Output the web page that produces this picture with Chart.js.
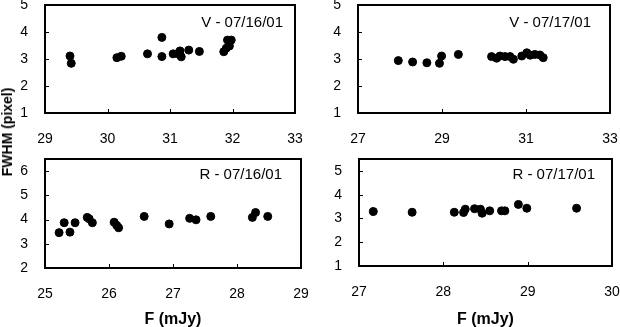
<!DOCTYPE html>
<html>
<head>
<meta charset="utf-8">
<script src="https://cdn.jsdelivr.net/npm/chart.js@4"></script>
<style>
  body { margin: 0; background: #fff; }
  #wrap { position: relative; width: 620px; height: 327px; overflow: hidden; }
  canvas { position: absolute; }
  #ylab {
    position: absolute; left: 7px; top: 132px;
    transform: translate(-50%, -50%) rotate(-90deg);
    font: bold 14px "Liberation Sans", Arial, sans-serif; white-space: nowrap;
  }
</style>
</head>
<body>
<div id="wrap">
  <canvas id="v16" width="310" height="150" style="left:0;top:0"></canvas>
  <canvas id="v17" width="310" height="150" style="left:310px;top:0"></canvas>
  <canvas id="r16" width="310" height="177" style="left:0;top:150px"></canvas>
  <canvas id="r17" width="310" height="177" style="left:310px;top:150px"></canvas>
  <div id="ylab">FWHM (pixel)</div>
</div>
<script>
// V band, 07/16/01
const v16Flux = [29.40, 29.42, 30.15, 30.22, 30.64, 30.87, 30.87, 31.05, 31.12, 31.16, 31.18, 31.30, 31.47, 31.86, 31.90, 31.95, 31.92, 31.98];
const v16Fwhm = [3.11, 2.84, 3.05, 3.10, 3.19, 3.80, 3.09, 3.19, 3.20, 3.30, 3.08, 3.33, 3.28, 3.27, 3.40, 3.48, 3.70, 3.70];
// V band, 07/17/01
const v17Flux = [27.96, 28.30, 28.64, 28.94, 28.99, 29.39, 30.18, 30.30, 30.38, 30.50, 30.62, 30.70, 30.90, 31.02, 31.10, 31.21, 31.33, 31.41];
const v17Fwhm = [2.94, 2.89, 2.86, 2.84, 3.11, 3.17, 3.09, 3.03, 3.11, 3.09, 3.09, 2.99, 3.11, 3.23, 3.14, 3.17, 3.15, 3.05];
// R band, 07/16/01
const r16Flux = [25.22, 25.30, 25.39, 25.47, 25.66, 25.69, 25.74, 26.08, 26.12, 26.15, 26.55, 26.94, 27.26, 27.36, 27.59, 28.24, 28.29, 28.48];
const r16Fwhm = [3.46, 3.87, 3.48, 3.87, 4.09, 4.03, 3.87, 3.89, 3.76, 3.66, 4.13, 3.82, 4.05, 3.99, 4.13, 4.09, 4.29, 4.13];
// R band, 07/17/01
const r17Flux = [27.17, 27.63, 28.13, 28.24, 28.26, 28.37, 28.44, 28.46, 28.55, 28.69, 28.73, 28.89, 28.99, 29.58];
const r17Fwhm = [3.29, 3.26, 3.26, 3.25, 3.39, 3.41, 3.39, 3.22, 3.32, 3.32, 3.32, 3.59, 3.43, 3.43];

const panelLabels = ["V - 07/16/01", "V - 07/17/01", "R - 07/16/01", "R - 07/17/01"];
const xTitle = "F (mJy)";

const FONT = '"Liberation Sans", Arial, sans-serif';

// box around the plot, inward tick marks and the panel label
const framePlugin = {
  id: 'frame',
  afterDraw(chart, args, opts) {
    const { ctx, chartArea: a, scales } = chart;
    ctx.save();
    ctx.strokeStyle = '#000';
    ctx.lineWidth = 1;
    ctx.beginPath();
    scales.x.ticks.forEach(t => {
      const px = Math.round(scales.x.getPixelForValue(t.value)) + 0.5;
      ctx.moveTo(px, a.bottom);
      ctx.lineTo(px, a.bottom - 4);
    });
    scales.y.ticks.forEach(t => {
      const py = Math.round(scales.y.getPixelForValue(t.value)) + 0.5;
      ctx.moveTo(a.left, py);
      ctx.lineTo(a.left + 4, py);
    });
    ctx.stroke();
    ctx.lineWidth = 2;
    ctx.strokeRect(a.left, a.top, a.right - a.left, a.bottom - a.top);
    ctx.fillStyle = '#000';
    ctx.font = '15px ' + FONT;
    ctx.textAlign = 'right';
    ctx.textBaseline = 'middle';
    ctx.fillText(opts.label, a.right - opts.dx, a.top + opts.dy);
    ctx.restore();
  }
};

function onlyWholeTicks(scale) {
  scale.ticks = scale.ticks.filter(t => Number.isInteger(t.value));
}

// fixed axis size, and no extra room for labels that overflow the ends
function fixSize(prop, size) {
  return s => {
    s[prop] = size;
    s.paddingLeft = s.paddingRight = s.paddingTop = s.paddingBottom = 0;
  };
}

function makePanel(id, xs, ys, cfg) {
  const pts = xs.map((x, i) => ({ x: x, y: ys[i] }));
  new Chart(document.getElementById(id), {
    type: 'scatter',
    data: {
      datasets: [{
        data: pts,
        backgroundColor: '#000',
        borderColor: '#000',
        pointRadius: 4,
        pointHoverRadius: 4
      }]
    },
    plugins: [framePlugin],
    options: {
      responsive: false,
      animation: false,
      devicePixelRatio: 1,
      layout: { padding: { top: cfg.padTop, right: cfg.padRight, left: 0, bottom: 0 } },
      plugins: {
        legend: { display: false },
        tooltip: { enabled: false },
        frame: { label: cfg.label, dx: cfg.labelDx, dy: cfg.labelDy }
      },
      scales: {
        x: {
          type: 'linear',
          min: cfg.xMin, max: cfg.xMax,
          grid: { display: false },
          border: { display: false },
          ticks: { stepSize: cfg.xStep, padding: cfg.xPad, color: '#000', font: { family: FONT, size: 14 } },
          title: {
            display: cfg.showTitle,
            text: xTitle,
            color: '#000',
            padding: { top: 0, bottom: -2 },
            font: { family: FONT, size: 16, weight: 'bold' }
          },
          afterFit: fixSize('height', cfg.xHeight)
        },
        y: {
          min: cfg.yMin, max: cfg.yMax,
          grid: { display: false },
          border: { display: false },
          ticks: { stepSize: 1, includeBounds: false, padding: 9, color: '#000', font: { family: FONT, size: 14 } },
          afterBuildTicks: onlyWholeTicks,
          afterFit: fixSize('width', cfg.yWidth)
        }
      }
    }
  });
}

makePanel('v16', v16Flux, v16Fwhm, {
  label: panelLabels[0], labelDx: 12, labelDy: 18,
  xMin: 29, xMax: 33, xStep: 1, yMin: 1, yMax: 5,
  padTop: 5, padRight: 15, yWidth: 45, xHeight: 37, xPad: 10, showTitle: false
});
makePanel('v17', v17Flux, v17Fwhm, {
  label: panelLabels[1], labelDx: 19, labelDy: 18,
  xMin: 27, xMax: 33, xStep: 2, yMin: 1, yMax: 5,
  padTop: 5, padRight: 10, yWidth: 48, xHeight: 37, xPad: 10, showTitle: false
});
makePanel('r16', r16Flux, r16Fwhm, {
  label: panelLabels[2], labelDx: 19, labelDy: 16,
  xMin: 25, xMax: 29, xStep: 1, yMin: 2, yMax: 6.5,
  padTop: 9, padRight: 9, yWidth: 45, xHeight: 59, xPad: 10, showTitle: true
});
makePanel('r17', r17Flux, r17Fwhm, {
  label: panelLabels[3], labelDx: 17, labelDy: 16,
  xMin: 27, xMax: 30, xStep: 1, yMin: 1, yMax: 5.5,
  padTop: 9, padRight: 8, yWidth: 49, xHeight: 61, xPad: 10, showTitle: true
});
</script>
</body>
</html>
